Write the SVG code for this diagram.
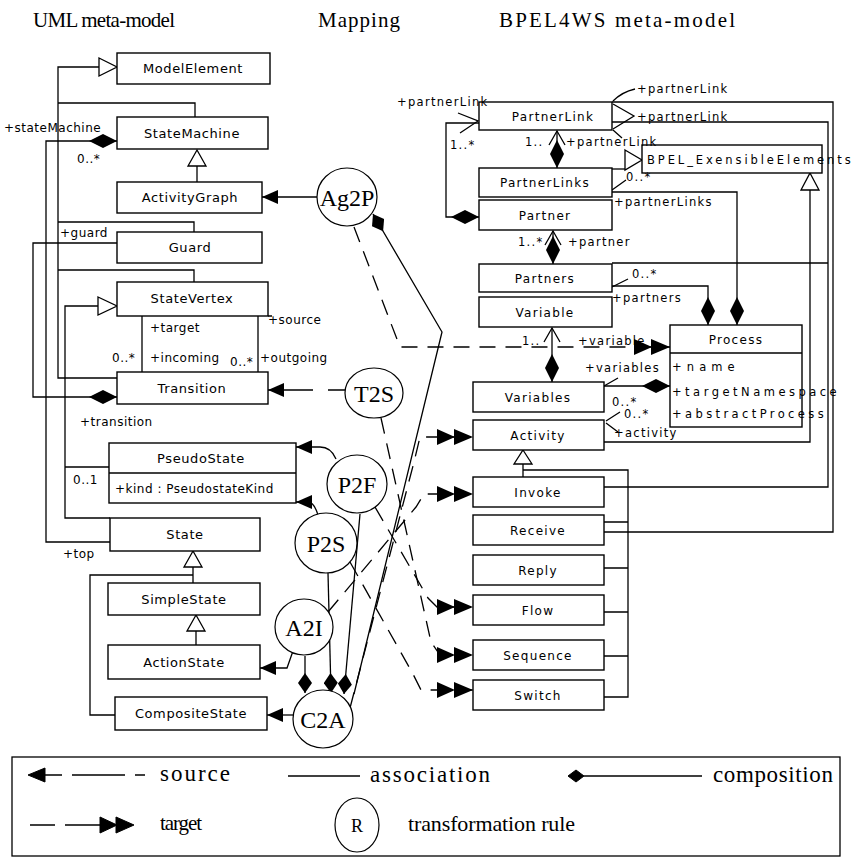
<svg xmlns="http://www.w3.org/2000/svg" width="856" height="858" viewBox="0 0 856 858">
<style>
.box{fill:#fff;stroke:#000;stroke-width:1.4}
.ln{fill:none;stroke:#000;stroke-width:1.3}
.dash{fill:none;stroke:#000;stroke-width:1.3;stroke-dasharray:16 10}
.rule{fill:#fff;stroke:#000;stroke-width:1.2}
.gen{fill:#fff;stroke:#000;stroke-width:1.3}
.fill{fill:#000;stroke:#000;stroke-width:1}
.u{font-family:"DejaVu Sans",sans-serif;font-size:13px;letter-spacing:0.6px;text-anchor:middle}
.ul{font-family:"DejaVu Sans",sans-serif;font-size:12px;letter-spacing:0.5px}
.b{font-family:"DejaVu Sans",sans-serif;font-size:12px;letter-spacing:1.3px;text-anchor:middle}
.bl{font-family:"DejaVu Sans",sans-serif;font-size:11.5px;letter-spacing:1.3px}
.s{font-family:"Liberation Serif",serif}
.r{font-family:"Liberation Serif",serif;font-size:24px;text-anchor:middle}
</style>
<defs>
<marker id="src" markerUnits="userSpaceOnUse" markerWidth="16" markerHeight="14" refX="16" refY="7" orient="auto" viewBox="0 0 16 14"><path d="M0,0 L16,7 L0,14 Z" fill="#000"/></marker>
<marker id="tgt" markerUnits="userSpaceOnUse" markerWidth="36" markerHeight="16" refX="36" refY="8" orient="auto" viewBox="0 0 36 16"><path d="M0,0 L18,8 L0,16 Z M17,0 L36,8 L17,16 Z" fill="#000"/></marker>
<marker id="dia" markerUnits="userSpaceOnUse" markerWidth="28" markerHeight="14" refX="28" refY="7" orient="auto" viewBox="0 0 28 14"><path d="M0,7 L14,0 L28,7 L14,14 Z" fill="#000"/></marker>
<marker id="dias" markerUnits="userSpaceOnUse" markerWidth="20" markerHeight="14" refX="20" refY="7" orient="auto" viewBox="0 0 20 14"><path d="M0,7 L10,0 L20,7 L10,14 Z" fill="#000"/></marker>
</defs>
<rect width="856" height="858" fill="#fff"/>

<g id="titles">
<text class="s" x="33" y="27" font-size="21" textLength="142" lengthAdjust="spacing">UML meta-model</text>
<text class="s" x="318" y="27" font-size="21" textLength="82" lengthAdjust="spacing">Mapping</text>
<text class="s" x="499" y="27" font-size="21" textLength="236" lengthAdjust="spacing">BPEL4WS  meta-model</text>
</g>

<g id="connectors">
<path class="ln" d="M99,67 H58 V378 H117 M58,103 H195 V117 M58,222 H194 V232 M58,270 H194 V282"/>
<polygon class="gen" points="99,58 117,67 99,76"/>
<path class="ln" d="M197,166 V182"/>
<polygon class="gen" points="197,150 206,166 188,166"/>
<path class="ln" d="M110,542 H46 V141 H117" marker-end="url(#dia)"/>
<path class="ln" d="M117,243 H33 V397 H117" marker-end="url(#dia)"/>
<path class="ln" d="M98,306 H65 V518 H110 M65,467 H109"/>
<polygon class="gen" points="98,297 117,306 98,315"/>
<path class="ln" d="M142,316 V372 M258,316 V372 M268,316 H272"/>
<path class="ln" d="M193,567 V583 M193,575 H90 V715 H115"/>
<polygon class="gen" points="193,551 202,567 184,567"/>
<path class="ln" d="M196,631 V645"/>
<polygon class="gen" points="196,615 205,631 187,631"/>

<path class="ln" d="M317,197 H262" marker-end="url(#src)"/>
<path class="ln" d="M345,390 H328 M313,390 H268" marker-end="url(#src)"/>
<path class="ln" d="M336,459 Q331,447 320,447 H296" marker-end="url(#src)"/>
<path class="ln" d="M318,515 Q314,502 308,502 H296" marker-end="url(#src)"/>
<path class="ln" d="M293,651 L287,668 H260" marker-end="url(#src)"/>
<path class="ln" d="M293,715 H267" marker-end="url(#src)"/>

<path class="dash" d="M354,227 L400,347 H670" marker-end="url(#tgt)"/>
<path class="dash" d="M381,418 L431,642 L440,655 H473" marker-end="url(#tgt)"/>
<path class="dash" d="M375,507 L428,598 L437,607 H473" marker-end="url(#tgt)"/>
<path class="dash" d="M350,562 L413,674 L421,690 H473" marker-end="url(#tgt)"/>
<path class="dash" d="M328,612 L416,507 L424,494 H473" marker-end="url(#tgt)"/>
<path class="dash" d="M350,708 L414,462 L420,437 H473" marker-end="url(#tgt)"/>

<path class="ln" d="M354,694 L442,332 L373,214" marker-end="url(#dias)"/>
<path class="ln" d="M360,514 L344,694" marker-end="url(#dias)"/>
<path class="ln" d="M328,573 L331,693" marker-end="url(#dias)"/>
<path class="ln" d="M305,656 V693" marker-end="url(#dias)"/>

<path class="ln" d="M479,123 H446 V217 H479" marker-end="url(#dia)"/>
<path class="ln" d="M557,131 V168" marker-end="url(#dia)"/>
<polyline class="ln" points="549,145 557,131 565,145"/>
<path class="ln" d="M553,231 V264" marker-end="url(#dia)"/>
<polyline class="ln" points="545,245 553,231 561,245"/>
<path class="ln" d="M552,328 V382" marker-end="url(#dia)"/>
<polyline class="ln" points="544,342 552,328 560,342"/>
<path class="ln" d="M612,169 H625"/>
<polygon class="gen" points="625,150 642,160 625,170"/>
<path class="ln" d="M604,442 H810 V190"/>
<polygon class="gen" points="810,173 819,190 801,190"/>
<path class="ln" d="M612,192 H737 V325" marker-end="url(#dia)"/>
<path class="ln" d="M612,286 H708 V325" marker-end="url(#dia)"/>
<path class="ln" d="M604,386 H670" marker-end="url(#dia)"/>
<path class="ln" d="M612,102 H833 V532 H604 M612,122 H828 V487 H604 M612,263 H828"/>
<path class="ln" d="M523,464 V477 M523,470 H628 V697 H604 M604,522 H628 M604,568 H628 M604,612 H628 M604,656 H628"/>
<polygon class="gen" points="523,450 532,464 514,464"/>
<path class="ln" stroke-width="0.9" d="M613,101 Q622,92 635,89 M613,104 L634,116 L613,129 M613,130 L622,138 M458,113 L478,121 L460,133 M612,190 L626,180 M612,287 L628,279 M604,386 L618,378 M606,421 L620,412 M606,423 L618,432"/>
</g>

<g id="ModelElement"><rect class="box" x="117" y="53" width="153" height="31"/><text class="u" x="193" y="73">ModelElement</text></g>
<g id="StateMachine"><rect class="box" x="117" y="117" width="151" height="32"/><text class="u" x="192" y="138">StateMachine</text></g>
<g id="ActivityGraph"><rect class="box" x="117" y="182" width="145" height="31"/><text class="u" x="190" y="202">ActivityGraph</text></g>
<g id="Guard"><rect class="box" x="117" y="232" width="145" height="31"/><text class="u" x="190" y="252">Guard</text></g>
<g id="StateVertex"><rect class="box" x="117" y="282" width="151" height="34"/><text class="u" x="192" y="303">StateVertex</text></g>
<g id="Transition"><rect class="box" x="117" y="372" width="151" height="32"/><text class="u" x="192" y="393">Transition</text></g>
<g id="PseudoState"><rect class="box" x="109" y="443" width="187" height="60"/><path class="ln" d="M109,473 H296"/><text class="u" x="201" y="463">PseudoState</text><text class="ul" x="115" y="493">+kind : PseudostateKind</text></g>
<g id="State"><rect class="box" x="110" y="518" width="150" height="33"/><text class="u" x="185" y="539">State</text></g>
<g id="SimpleState"><rect class="box" x="108" y="583" width="152" height="32"/><text class="u" x="184" y="604">SimpleState</text></g>
<g id="ActionState"><rect class="box" x="108" y="645" width="152" height="34"/><text class="u" x="184" y="667">ActionState</text></g>
<g id="CompositeState"><rect class="box" x="115" y="697" width="152" height="33"/><text class="u" x="191" y="718">CompositeState</text></g>

<g id="uml-labels">
<text class="ul" x="4" y="132">+stateMachine</text>
<text class="ul" x="77" y="163">0..*</text>
<text class="ul" x="60" y="237">+guard</text>
<text class="ul" x="150" y="332">+target</text>
<text class="ul" x="112" y="362">0..*</text>
<text class="ul" x="150" y="362">+incoming</text>
<text class="ul" x="230" y="366">0..*</text>
<text class="ul" x="260" y="362">+outgoing</text>
<text class="ul" x="268" y="324">+source</text>
<text class="ul" x="80" y="426">+transition</text>
<text class="ul" x="73" y="484">0..1</text>
<text class="ul" x="63" y="558">+top</text>
</g>

<g id="Ag2P"><ellipse class="rule" cx="347" cy="197" rx="30" ry="29"/><text class="r" x="347" y="206">Ag2P</text></g>
<g id="T2S"><ellipse class="rule" cx="374" cy="393" rx="29" ry="25"/><text class="r" x="374" y="402">T2S</text></g>
<g id="P2F"><ellipse class="rule" cx="357" cy="484" rx="30" ry="29"/><text class="r" x="357" y="493">P2F</text></g>
<g id="P2S"><ellipse class="rule" cx="326" cy="543" rx="31" ry="30"/><text class="r" x="326" y="552">P2S</text></g>
<g id="A2I"><ellipse class="rule" cx="304" cy="627" rx="29" ry="28"/><text class="r" x="304" y="636">A2I</text></g>
<g id="C2A"><ellipse class="rule" cx="323" cy="719" rx="30" ry="29"/><text class="r" x="323" y="728">C2A</text></g>

<g id="PartnerLink"><rect class="box" x="479" y="102" width="133" height="28"/><text class="b" x="553" y="121">PartnerLink</text></g>
<g id="PartnerLinks"><rect class="box" x="479" y="168" width="133" height="29"/><text class="b" x="545" y="187">PartnerLinks</text></g>
<g id="Partner"><rect class="box" x="479" y="200" width="133" height="30"/><text class="b" x="545" y="220">Partner</text></g>
<g id="Partners"><rect class="box" x="479" y="264" width="133" height="28"/><text class="b" x="545" y="283">Partners</text></g>
<g id="Variable"><rect class="box" x="479" y="297" width="133" height="30"/><text class="b" x="545" y="317">Variable</text></g>
<g id="Variables"><rect class="box" x="473" y="382" width="131" height="30"/><text class="b" x="538" y="402">Variables</text></g>
<g id="Activity"><rect class="box" x="473" y="420" width="131" height="30"/><text class="b" x="538" y="440">Activity</text></g>
<g id="Invoke"><rect class="box" x="473" y="477" width="131" height="30"/><text class="b" x="538" y="497">Invoke</text></g>
<g id="Receive"><rect class="box" x="473" y="515" width="131" height="30"/><text class="b" x="538" y="535">Receive</text></g>
<g id="Reply"><rect class="box" x="473" y="555" width="131" height="30"/><text class="b" x="538" y="575">Reply</text></g>
<g id="Flow"><rect class="box" x="473" y="595" width="131" height="30"/><text class="b" x="538" y="615">Flow</text></g>
<g id="Sequence"><rect class="box" x="473" y="640" width="131" height="30"/><text class="b" x="538" y="660">Sequence</text></g>
<g id="Switch"><rect class="box" x="473" y="680" width="131" height="30"/><text class="b" x="538" y="700">Switch</text></g>
<g id="BPEL_ExensibleElements"><rect class="box" x="642" y="145" width="180" height="28"/><text class="bl" x="647" y="164" font-size="12" textLength="205" lengthAdjust="spacing">BPEL_ExensibleElements</text></g>
<g id="Process"><rect class="box" x="670" y="325" width="132" height="102"/><path class="ln" d="M670,353 H802"/><text class="b" x="736" y="344">Process</text>
<text class="bl" x="672" y="371" textLength="64" lengthAdjust="spacing">+name</text><text class="bl" x="672" y="396" textLength="166" lengthAdjust="spacing">+targetNamespace</text><text class="bl" x="672" y="418" textLength="153" lengthAdjust="spacing">+abstractProcess</text></g>

<g id="bpel-labels">
<text class="bl" x="397" y="106">+partnerLink</text>
<text class="bl" x="450" y="149">1..*</text>
<text class="bl" x="637" y="93">+partnerLink</text>
<text class="bl" x="637" y="121">+partnerLink</text>
<text class="bl" x="566" y="146">+partnerLink</text>
<text class="bl" x="525" y="146">1..</text>
<text class="bl" x="626" y="181">0..*</text>
<text class="bl" x="614" y="206">+partnerLinks</text>
<text class="bl" x="518" y="246">1..*</text>
<text class="bl" x="568" y="246">+partner</text>
<text class="bl" x="632" y="278">0..*</text>
<text class="bl" x="612" y="302">+partners</text>
<text class="bl" x="522" y="345">1..</text>
<text class="bl" x="578" y="345">+variable</text>
<text class="bl" x="585" y="372">+variables</text>
<text class="bl" x="612" y="406">0..*</text>
<text class="bl" x="624" y="418">0..*</text>
<text class="bl" x="614" y="437">+activity</text>
</g>

<g id="legend">
<rect x="12" y="757" width="828" height="99" fill="none" stroke="#000" stroke-width="1.3"/>
<polygon class="fill" points="28,775 45,768 45,782"/>
<path class="ln" d="M45,775 H62 M72,775 H125 M135,775 H145"/>
<text class="s" x="160" y="781" font-size="23" textLength="70" lengthAdjust="spacing">source</text>
<path class="ln" d="M288,776 H360"/>
<text class="s" x="370" y="782" font-size="23" textLength="120" lengthAdjust="spacing">association</text>
<polygon class="fill" points="568,776 576,770 584,776 576,782"/>
<path class="ln" d="M584,776 H702"/>
<text class="s" x="713" y="782" font-size="23" textLength="120" lengthAdjust="spacing">composition</text>
<path class="ln" d="M30,825 H55 M65,825 H102"/>
<polygon class="fill" points="100,817 117,825 100,833"/>
<polygon class="fill" points="116,817 134,825 116,833"/>
<text class="s" x="160" y="830" font-size="21" textLength="42" lengthAdjust="spacing">target</text>
<ellipse class="rule" cx="357" cy="825" rx="22" ry="27"/>
<text class="s" x="357" y="832" font-size="18" text-anchor="middle">R</text>
<text class="s" x="408" y="831" font-size="22" textLength="167" lengthAdjust="spacing">transformation rule</text>
</g>
</svg>
